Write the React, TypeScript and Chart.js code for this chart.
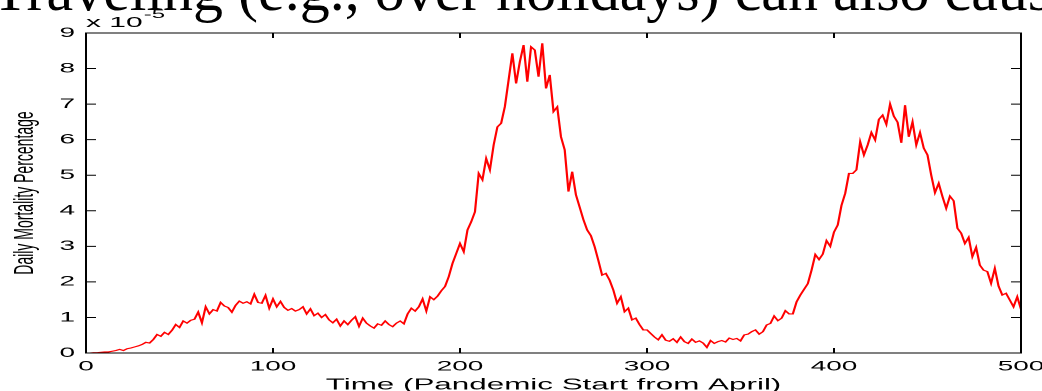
import React, { useEffect, useRef } from "react";
import { Chart, registerables } from "chart.js";

Chart.register(...registerables);

// ---- data (values in units of 10^-5, one reading every 2 days) ----
const DAY_STEP = 2;

const wave1Start = 0;
const wave1 = [
  0.0, 0.0, 0.01, 0.01, 0.02, 0.03, 0.03, 0.05, 0.07, 0.1, 0.07, 0.12, 0.14, 0.17, 0.2, 0.24,
  0.3, 0.28, 0.38, 0.52, 0.47, 0.58, 0.52, 0.64, 0.8, 0.72, 0.9, 0.84, 0.92, 0.95, 1.15, 0.85,
  1.3, 1.1, 1.22, 1.18, 1.42, 1.32, 1.28, 1.15, 1.34, 1.46, 1.4, 1.44, 1.38, 1.65, 1.42, 1.4,
  1.62, 1.26, 1.52, 1.3, 1.45, 1.28, 1.2, 1.25, 1.18, 1.22, 1.3, 1.1, 1.24, 1.05, 1.12, 1.0, 1.08,
];

const wave2Start = 130;
const wave2 = [
  0.93, 0.85, 0.95, 0.76, 0.9, 0.8, 0.92, 1.02, 0.75, 0.98, 0.84, 0.76, 0.7, 0.82, 0.78, 0.9,
  0.8, 0.74, 0.84, 0.9, 0.82, 1.1, 1.26, 1.18, 1.3, 1.52, 1.18, 1.58, 1.5, 1.6, 1.75, 1.87,
  2.15, 2.52, 2.8, 3.08, 2.85, 3.46, 3.69, 3.97, 5.05, 4.87, 5.47, 5.15, 5.85, 6.36, 6.46, 6.93,
  7.68, 8.43, 7.58, 8.19, 8.66, 7.63, 8.61, 8.52, 7.77, 8.71, 7.44, 7.82, 6.79, 6.92, 6.08, 5.71, 4.54,
];

const lullStart = 260;
const lull = [
  5.1, 4.45, 4.1, 3.75, 3.46, 3.3, 2.99, 2.6, 2.19, 2.24, 2.05, 1.77, 1.4, 1.58, 1.16, 1.26,
  0.93, 0.98, 0.8, 0.65, 0.65, 0.55, 0.45, 0.37, 0.51, 0.36, 0.33, 0.4, 0.3, 0.45, 0.32, 0.27,
  0.39, 0.3, 0.34, 0.28, 0.16, 0.35, 0.27, 0.32, 0.35, 0.31, 0.42, 0.38, 0.41, 0.34, 0.51, 0.53,
  0.6, 0.65, 0.53, 0.6, 0.79, 0.83, 1.04, 0.91, 0.98, 1.19, 1.1, 1.1, 1.44,
];

const wave3Start = 382;
const wave3 = [
  1.63, 1.79, 1.95, 2.33, 2.77, 2.63, 2.78, 3.16, 3.0, 3.4, 3.6, 4.15, 4.49, 5.05, 5.05, 5.15,
  5.94, 5.57, 5.85, 6.2, 5.99, 6.57, 6.69, 6.43, 7.0, 6.66, 6.49, 5.91, 6.97, 6.08, 6.5, 5.85,
  6.2, 5.76, 5.57, 5.0, 4.51, 4.77, 4.4, 4.07, 4.41, 4.28, 3.51, 3.37, 3.08, 3.25, 2.71, 2.97,
  2.47, 2.33, 2.29, 1.96, 2.38, 1.88, 1.63, 1.68, 1.49, 1.3, 1.58, 1.23,
];

const xTicks = [0, 100, 200, 300, 400, 500];
const yTicks = [0, 1, 2, 3, 4, 5, 6, 7, 8, 9];
const exponentBase = "x 10";
const exponentPower = "-5";
const xTitle = "Time (Pandemic Start from April)";
const yTitle = "Daily Mortality Percentage";
const slideText = "Traveling (e.g., over holidays) can also cause";

const SANS = '"Liberation Sans", Arial, sans-serif';

function toPoints(start: number, vals: number[]) {
  return vals.map((v, i) => ({ x: start + i * DAY_STEP, y: v }));
}

const framePlugin = {
  id: "matlabFrame",
  afterDraw(chart: any) {
    const { ctx, chartArea, scales } = chart;
    const { left, right, top, bottom } = chartArea;
    const x = scales.x;
    const y = scales.y;
    ctx.save();
    ctx.strokeStyle = "#000";
    ctx.lineWidth = 1;
    ctx.strokeRect(left, top, right - left, bottom - top);
    ctx.beginPath();
    xTicks.forEach((v) => {
      const px = x.getPixelForValue(v);
      ctx.moveTo(px, bottom);
      ctx.lineTo(px, bottom - 5);
      ctx.moveTo(px, top);
      ctx.lineTo(px, top + 5);
    });
    yTicks.forEach((v) => {
      const py = y.getPixelForValue(v);
      ctx.moveTo(left, py);
      ctx.lineTo(left + 5, py);
      ctx.moveTo(right, py);
      ctx.lineTo(right - 5, py);
    });
    ctx.stroke();
    ctx.fillStyle = "#000";
    ctx.textAlign = "left";
    ctx.textBaseline = "alphabetic";
    ctx.font = `15px ${SANS}`;
    ctx.fillText(exponentBase, left, 27);
    const w = ctx.measureText(exponentBase).width;
    ctx.font = `12px ${SANS}`;
    ctx.fillText(exponentPower, left + w + 0.5, 18);
    ctx.restore();
  },
};

export default function App() {
  const canvasRef = useRef<HTMLCanvasElement | null>(null);

  useEffect(() => {
    const canvas = canvasRef.current;
    if (!canvas) return;
    const data = [
      ...toPoints(wave1Start, wave1),
      ...toPoints(wave2Start, wave2),
      ...toPoints(lullStart, lull),
      ...toPoints(wave3Start, wave3),
    ];
    const chart = new Chart(canvas, {
      type: "line",
      data: {
        datasets: [
          {
            data,
            borderColor: "#ff0000",
            borderWidth: 1.1,
            pointRadius: 0,
            tension: 0,
            fill: false,
          },
        ],
      },
      options: {
        responsive: false,
        animation: false,
        devicePixelRatio: 2,
        layout: { padding: { top: 33, right: 10.5, left: 0, bottom: 0 } },
        plugins: { legend: { display: false }, tooltip: { enabled: false } },
        scales: {
          x: {
            type: "linear",
            min: 0,
            max: 500,
            afterBuildTicks: (s: any) => {
              s.ticks = xTicks.map((v) => ({ value: v }));
            },
            afterFit: (s: any) => {
              s.height = 43;
              s.paddingLeft = 0;
              s.paddingRight = 0;
            },
            grid: { display: false, drawTicks: false },
            border: { display: false },
            ticks: {
              padding: 5,
              color: "#000",
              maxRotation: 0,
              autoSkip: false,
              font: { family: SANS, size: 14 },
            },
            title: {
              display: true,
              text: xTitle,
              color: "#000",
              font: { family: SANS, size: 15.7 },
              padding: { top: 0, bottom: 1.5 },
            },
          },
          y: {
            type: "linear",
            min: 0,
            max: 9,
            afterBuildTicks: (s: any) => {
              s.ticks = yTicks.map((v) => ({ value: v }));
            },
            afterFit: (s: any) => {
              s.width = 43;
              s.paddingTop = 0;
              s.paddingBottom = 0;
            },
            grid: { display: false, drawTicks: false },
            border: { display: false },
            ticks: {
              padding: 5.5,
              color: "#000",
              autoSkip: false,
              font: { family: SANS, size: 14 },
            },
            title: {
              display: true,
              text: yTitle,
              color: "#000",
              font: { family: SANS, size: 14 },
              padding: { top: 4.3, bottom: 0 },
            },
          },
        },
      },
      plugins: [framePlugin],
    } as any);
    return () => chart.destroy();
  }, []);

  return (
    <div
      style={{
        position: "fixed",
        left: 0,
        top: 0,
        width: 1042,
        height: 391,
        overflow: "hidden",
        background: "#fff",
      }}
    >
      <div
        style={{
          position: "absolute",
          left: -8,
          top: -40,
          fontFamily: '"Liberation Serif", "Times New Roman", serif',
          fontSize: 60,
          lineHeight: "60px",
          whiteSpace: "nowrap",
          color: "#000",
        }}
      >
        {slideText}
      </div>
      <div
        style={{
          position: "absolute",
          left: 0,
          top: 0,
          width: 521,
          height: 396,
          transform: "scaleX(2)",
          transformOrigin: "0 0",
        }}
      >
        <canvas ref={canvasRef} width={521} height={396} style={{ width: 521, height: 396 }} />
      </div>
    </div>
  );
}
